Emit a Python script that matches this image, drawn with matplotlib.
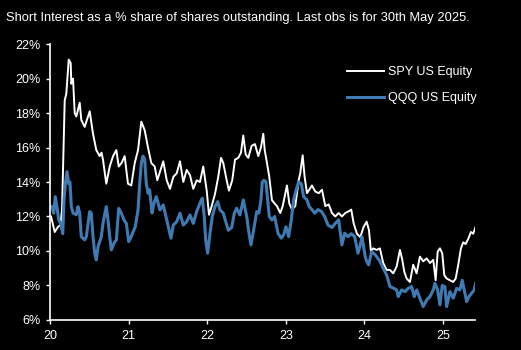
import matplotlib
matplotlib.use('Agg')
import matplotlib.pyplot as plt

# decimal years since 2000 (20 = Jan 2020) and short interest in %
spy_t = [20.013, 20.060, 20.102, 20.134, 20.153, 20.187, 20.207, 20.238, 20.263, 20.271,
         20.293, 20.314, 20.335, 20.378, 20.398, 20.441, 20.505, 20.547, 20.589, 20.632,
         20.655, 20.674, 20.716, 20.760, 20.802, 20.844, 20.874, 20.910, 20.950, 20.992,
         21.034, 21.078, 21.120, 21.162, 21.205, 21.247, 21.289, 21.332, 21.365, 21.441,
         21.485, 21.527, 21.569, 21.612, 21.654, 21.696, 21.739, 21.781, 21.823, 21.866,
         21.908, 21.950, 21.994, 22.023, 22.057, 22.099, 22.141, 22.176, 22.205, 22.248,
         22.277, 22.319, 22.354, 22.396, 22.430, 22.459, 22.490, 22.523, 22.566, 22.608,
         22.650, 22.684, 22.714, 22.732, 22.761, 22.790, 22.824, 22.859, 22.888, 22.930,
         22.961, 22.994, 23.015, 23.045, 23.079, 23.121, 23.164, 23.184, 23.215, 23.240,
         23.270, 23.299, 23.333, 23.375, 23.419, 23.461, 23.503, 23.546, 23.588, 23.630,
         23.673, 23.715, 23.757, 23.800, 23.833, 23.864, 23.906, 23.948, 23.991, 24.029,
         24.059, 24.084, 24.113, 24.157, 24.198, 24.240, 24.284, 24.326, 24.368, 24.411,
         24.453, 24.482, 24.508, 24.538, 24.580, 24.622, 24.665, 24.707, 24.749, 24.793,
         24.835, 24.877, 24.907, 24.933, 24.962, 24.991, 25.017, 25.047, 25.089, 25.131,
         25.162, 25.195, 25.229, 25.258, 25.289, 25.322, 25.356, 25.385, 25.416]
spy_v = [12.0, 11.1, 11.4, 11.5, 12.4, 18.75, 19.1, 21.1, 20.9, 19.7,
         20.0, 18.0, 17.8, 18.6, 17.6, 17.2, 18.1, 16.8, 15.85, 15.5,
         15.7, 15.3, 13.9, 14.9, 15.5, 15.85, 14.9, 15.1, 15.5, 13.9,
         13.8, 15.1, 15.85, 17.5, 17.0, 16.0, 15.1, 14.9, 14.1, 15.2,
         14.1, 13.6, 14.3, 14.5, 15.2, 14.0, 14.7, 14.4, 13.6, 14.1,
         14.0, 14.9, 13.5, 12.1, 12.6, 13.3, 14.3, 15.4, 15.1, 14.1,
         13.5, 14.1, 15.3, 15.4, 15.7, 16.7, 15.6, 15.4, 16.1, 16.2,
         15.5, 16.0, 16.8, 15.85, 15.1, 14.3, 12.95, 12.75, 12.6, 12.2,
         12.6, 13.35, 13.8, 12.75, 12.4, 12.6, 14.1, 14.5, 15.55, 14.3,
         13.35, 13.55, 13.8, 13.45, 13.35, 13.55, 12.6, 12.7, 12.2, 12.0,
         12.2, 12.0, 12.2, 12.3, 12.4, 11.6, 11.0, 10.8, 11.4, 11.7,
         11.2, 9.96, 10.15, 10.06, 10.15, 9.3, 8.9, 8.9, 8.7, 9.1,
         10.06, 9.5, 8.8, 8.4, 8.2, 9.2, 8.7, 9.67, 9.4, 9.57,
         9.3, 9.48, 8.3, 9.96, 10.15, 9.87, 8.6, 8.4, 8.3, 8.2,
         8.4, 9.2, 10.15, 10.5, 10.4, 10.7, 11.1, 11.0, 11.4]

qqq_t = [20.000, 20.025, 20.047, 20.067, 20.093, 20.111, 20.136, 20.162, 20.178, 20.195,
         20.216, 20.238, 20.254, 20.271, 20.293, 20.335, 20.356, 20.378, 20.398, 20.441,
         20.462, 20.505, 20.525, 20.547, 20.569, 20.589, 20.611, 20.653, 20.674, 20.716,
         20.738, 20.760, 20.780, 20.814, 20.844, 20.874, 20.907, 20.941, 20.971, 21.001,
         21.034, 21.056, 21.085, 21.120, 21.141, 21.162, 21.183, 21.205, 21.225, 21.247,
         21.268, 21.298, 21.323, 21.352, 21.399, 21.441, 21.485, 21.539, 21.569, 21.612,
         21.654, 21.696, 21.739, 21.781, 21.823, 21.866, 21.908, 21.938, 21.963, 21.981,
         22.006, 22.036, 22.065, 22.099, 22.134, 22.163, 22.205, 22.248, 22.268, 22.312,
         22.345, 22.375, 22.417, 22.459, 22.503, 22.532, 22.557, 22.587, 22.630, 22.659,
         22.684, 22.701, 22.723, 22.748, 22.790, 22.824, 22.859, 22.901, 22.943, 22.973,
         23.003, 23.037, 23.070, 23.100, 23.130, 23.164, 23.197, 23.228, 23.270, 23.299,
         23.333, 23.368, 23.410, 23.452, 23.495, 23.537, 23.588, 23.630, 23.673, 23.715,
         23.749, 23.791, 23.833, 23.877, 23.919, 23.948, 23.969, 24.011, 24.029, 24.055,
         24.093, 24.135, 24.198, 24.240, 24.284, 24.326, 24.368, 24.411, 24.431, 24.475,
         24.517, 24.558, 24.602, 24.635, 24.665, 24.707, 24.749, 24.793, 24.835, 24.877,
         24.898, 24.933, 24.962, 24.991, 25.025, 25.047, 25.089, 25.131, 25.174, 25.216,
         25.245, 25.271, 25.302, 25.331, 25.365, 25.398, 25.416]
qqq_v = [12.57, 12.57, 12.19, 13.15, 12.4, 11.8, 11.6, 11.0, 12.96, 13.9,
         14.6, 13.9, 14.0, 12.57, 12.2, 12.1, 12.57, 12.2, 10.83, 10.64,
         10.83, 12.28, 12.2, 10.83, 9.87, 9.48, 10.25, 10.83, 11.6, 12.57,
         11.8, 10.83, 10.06, 10.45, 10.64, 12.47, 12.2, 11.8, 11.6, 10.54,
         10.83, 11.1, 11.4, 12.38, 13.9, 15.1, 15.5, 15.3, 13.9, 13.35,
         13.55, 12.2, 12.77, 13.15, 12.38, 12.67, 11.8, 10.74, 11.5, 11.7,
         12.19, 11.5, 11.7, 12.09, 11.6, 12.28, 12.77, 13.06, 11.99, 10.64,
         9.87, 11.03, 12.0, 12.57, 12.86, 12.38, 12.19, 11.5, 11.2, 11.36,
         12.19, 12.48, 12.09, 12.96, 12.0, 11.03, 10.35, 11.1, 12.28, 12.2,
         12.96, 14.0, 14.1, 14.0, 12.0, 11.8, 12.0, 11.03, 10.74, 10.93,
         11.4, 10.83, 11.8, 12.96, 13.5, 14.0, 13.9, 13.15, 12.96, 12.57,
         12.4, 12.19, 12.4, 12.3, 12.0, 11.5, 11.36, 11.6, 11.8, 10.35,
         11.03, 10.83, 11.0, 10.83, 9.87, 10.35, 10.83, 9.67, 9.4, 9.19,
         9.96, 9.8, 9.4, 9.0, 8.6, 7.93, 7.85, 7.74, 7.35, 7.74,
         7.64, 7.83, 7.93, 7.35, 7.74, 7.26, 6.77, 7.16, 7.35, 7.74,
         8.12, 7.74, 6.87, 8.0, 7.93, 6.77, 7.64, 7.26, 7.83, 7.74,
         8.3, 7.74, 7.06, 7.35, 7.55, 7.74, 8.12]

years = [20, 21, 22, 23, 24, 25]
pct_ticks = [6, 8, 10, 12, 14, 16, 18, 20, 22]

plt.rcParams['font.family'] = ['Liberation Sans', 'DejaVu Sans']

fig = plt.figure(figsize=(5.21, 3.5), dpi=100, facecolor='black')
ax = fig.add_axes([0.096, 0.086, 0.816, 0.788], facecolor='black')

ax.plot(spy_t, spy_v, color='white', lw=1.4, label='SPY US Equity')
ax.plot(qqq_t, qqq_v, color='#3f7ab3', lw=2.2, label='QQQ US Equity')

ax.set_xlim(20, 25.41)
ax.set_ylim(6, 22)
ax.set_xticks(years)
ax.set_xticklabels([str(y) for y in years])
ax.set_yticks(pct_ticks)
ax.set_yticklabels([f'{p}%' for p in pct_ticks])

for s in ['top', 'right']:
  ax.spines[s].set_visible(False)
for s in ['left', 'bottom']:
  ax.spines[s].set_color('white')
  ax.spines[s].set_linewidth(1.2)
ax.tick_params(colors='white', labelsize=9, length=3, width=1, pad=4)

ax.legend(loc='upper left', bbox_to_anchor=(0.672, 0.96), frameon=False,
  fontsize=9, labelcolor='white', handlelength=3.0, labelspacing=1.1,
  handletextpad=0.3)

fig.text(0.012, 0.95, 'Short Interest as a % share of shares outstanding. Last obs is for 30th May 2025.',
  color='white', fontsize=9.25, ha='left', va='center')

fig.savefig('out.png', dpi=100, facecolor='black')
